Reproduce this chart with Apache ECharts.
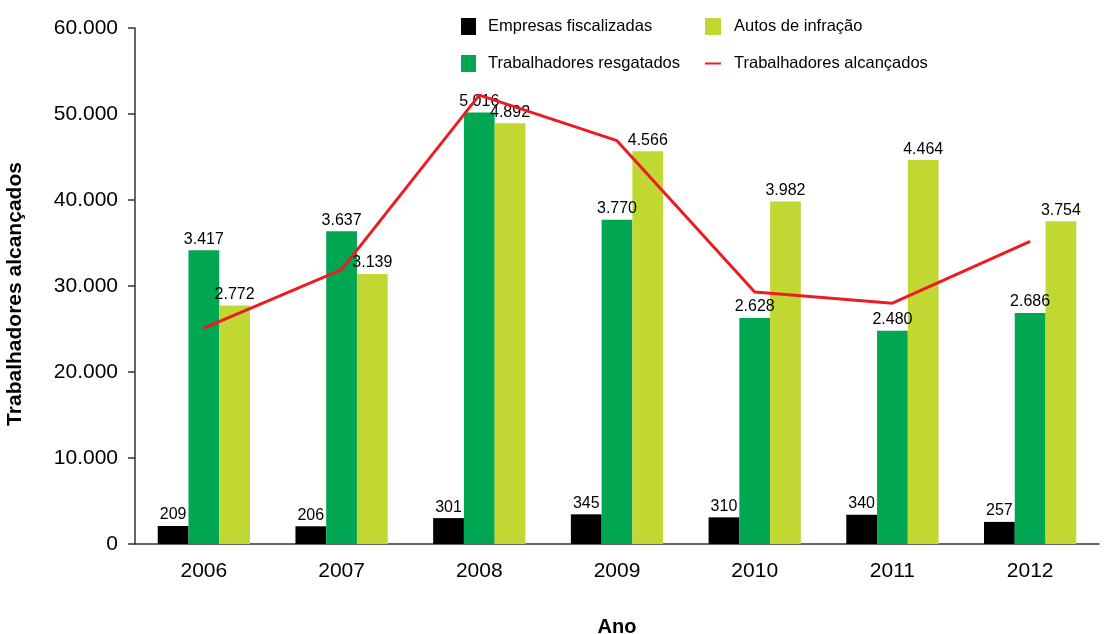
<!DOCTYPE html>
<html>
<head>
<meta charset="utf-8">
<script src="https://cdn.jsdelivr.net/npm/echarts@6/dist/echarts.min.js"></script>
<style>
html,body{margin:0;padding:0;background:#fff;}
#chart{width:1104px;height:634px;}
</style>
</head>
<body>
<div id="chart"></div>
<script>
// ---- data ----
const categories = ['2006', '2007', '2008', '2009', '2010', '2011', '2012'];
const empresasFiscalizadas = [209, 206, 301, 345, 310, 340, 257];
const trabalhadoresResgatados = [3417, 3637, 5016, 3770, 2628, 2480, 2686];
const autosDeInfracao = [2772, 3139, 4892, 4566, 3982, 4464, 3754];
const trabalhadoresAlcancados = [25100, 31900, 52200, 46900, 29300, 28000, 35200];
const yTicks = { min: 0, max: 60000, interval: 10000 };
// bars are drawn at 10x their labelled value in the original chart
const BAR_SCALE = 10;

const FONT = "'Liberation Sans', Arial, Helvetica, sans-serif";
function fmt(n) {
  return String(n).replace(/\B(?=(\d{3})+(?!\d))/g, '.');
}
function barSeries(name, values, color) {
  return {
    name: name,
    type: 'bar',
    barGap: '0%',
    barCategoryGap: '33%',
    itemStyle: { color: color },
    data: values.map(v => ({ value: v * BAR_SCALE, raw: v })),
    label: {
      show: true,
      position: 'top',
      distance: 3,
      color: '#000',
      fontFamily: FONT,
      fontSize: 16,
      formatter: p => fmt(p.data.raw)
    },
    z: 2
  };
}

const chart = echarts.init(document.getElementById('chart'), null, { renderer: 'canvas' });
chart.setOption({
  animation: false,
  backgroundColor: '#fff',
  textStyle: { fontFamily: FONT },
  grid: { left: 135, right: 5, top: 28, bottom: 90, containLabel: false, outerBoundsMode: 'none' },
  legend: [
    {
      orient: 'vertical',
      left: 461, top: 18, padding: 0,
      itemWidth: 15, itemHeight: 17, itemGap: 20,
      textStyle: { fontFamily: FONT, fontSize: 16.5, color: '#000', padding: [0, 0, 0, 7] },
      data: [
        { name: 'Empresas fiscalizadas', icon: 'rect' },
        { name: 'Trabalhadores resgatados', icon: 'rect' }
      ]
    },
    {
      orient: 'vertical',
      left: 704, top: 18, padding: 0,
      itemWidth: 16, itemHeight: 17, itemGap: 20,
      textStyle: { fontFamily: FONT, fontSize: 16.5, color: '#000', padding: [0, 0, 0, 8] },
      data: [
        { name: 'Autos de infração', icon: 'rect' },
        { name: 'Trabalhadores alcançados', itemStyle: { opacity: 0 } }
      ]
    }
  ],
  xAxis: {
    type: 'category',
    data: categories,
    name: 'Ano',
    nameLocation: 'middle',
    nameGap: 73,
    nameTextStyle: { fontFamily: FONT, fontSize: 20, fontWeight: 'bold', color: '#000' },
    axisLine: { show: true, lineStyle: { color: '#333', width: 1.5 } },
    axisTick: { show: false },
    axisLabel: { fontFamily: FONT, fontSize: 21, color: '#000', margin: 17 }
  },
  yAxis: {
    type: 'value',
    min: yTicks.min, max: yTicks.max, interval: yTicks.interval,
    name: 'Trabalhadores alcançados',
    nameLocation: 'middle',
    nameGap: 109,
    nameTextStyle: { fontFamily: FONT, fontSize: 21, fontWeight: 'bold', color: '#000', padding: [0, 16, 0, 0] },
    axisLine: { show: true, lineStyle: { color: '#333', width: 1.5 } },
    axisTick: { show: true, length: 7, lineStyle: { color: '#333', width: 1.5 } },
    splitLine: { show: false },
    axisLabel: { fontFamily: FONT, fontSize: 21, color: '#000', margin: 17, formatter: v => fmt(v) }
  },
  series: [
    barSeries('Empresas fiscalizadas', empresasFiscalizadas, '#000000'),
    barSeries('Trabalhadores resgatados', trabalhadoresResgatados, '#00a651'),
    barSeries('Autos de infração', autosDeInfracao, '#c2d832'),
    {
      name: 'Trabalhadores alcançados',
      type: 'line',
      symbol: 'none',
      data: trabalhadoresAlcancados,
      lineStyle: { color: '#ec1c24', width: 3 },
      itemStyle: { color: '#ec1c24' },
      z: 5
    }
  ]
});
</script>
</body>
</html>
